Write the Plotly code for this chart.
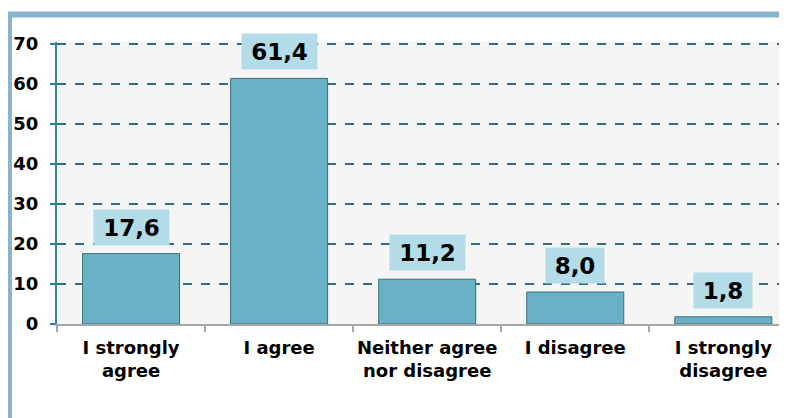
import plotly.graph_objects as go

categories = ["I strongly<br>agree", "I agree", "Neither agree<br>nor disagree", "I disagree", "I strongly<br>disagree"]
values = [17.6, 61.4, 11.2, 8.0, 1.8]
y_ticks = [0, 10, 20, 30, 40, 50, 60, 70]

labels = [f"{v:.1f}".replace(".", ",") for v in values]

fig = go.Figure()
fig.add_trace(go.Bar(
    x=categories, y=values,
    marker=dict(color="#69B2C6", line=dict(color="#3B6E7C", width=1)),
    hoverinfo="skip",
))

for c, v, t in zip(categories, values, labels):
    fig.add_annotation(
        x=c, y=v, text=f"<b>{t}</b>", showarrow=False,
        yanchor="bottom", yshift=8,
        font=dict(family="DejaVu Sans", size=23, color="black"),
        bgcolor="#B3DCE8", borderpad=6, width=17 * len(t) - 5, height=23,
    )

# outer light-blue frame (partially visible at left and top)
fig.add_shape(type="rect", xref="paper", yref="paper",
              x0=-0.0658, x1=1.2, y0=-0.5, y1=1.0975,
              line=dict(color="#8AB4CE", width=6), fillcolor="rgba(0,0,0,0)", layer="below")

fig.update_layout(
    width=779, height=410,
    margin=dict(l=49, r=0, t=34, b=94),
    paper_bgcolor="white", plot_bgcolor="#F5F5F5",
    bargap=0.345, showlegend=False,
    font=dict(family="DejaVu Sans", color="black"),
)
fig.update_xaxes(
    range=[-0.5, 4.43], automargin=False, tickangle=0,
    showline=True, linecolor="#A6A6A6", linewidth=2,
    ticks="outside", tickson="boundaries", ticklen=6, tickcolor="#A6A6A6", tickwidth=2,
    ticklabelstandoff=6,
    tickfont=dict(family="DejaVu Sans", size=18, color="black"),
    tickvals=categories, ticktext=[f"<b>{c}</b>" for c in categories],
    showgrid=False,
)
fig.update_yaxes(
    range=[0, 70.5], automargin=False,
    tickvals=y_ticks, ticktext=[f"<b>{v}</b>" for v in y_ticks],
    showline=True, linecolor="#31849B", linewidth=2,
    ticks="outside", ticklen=5, tickcolor="#31849B", tickwidth=2,
    ticklabelstandoff=8,
    showgrid=True, gridcolor="#2F6F80", griddash="dash", gridwidth=1.5,
    zeroline=False,
    tickfont=dict(family="DejaVu Sans", size=18, color="black"),
)

fig.write_html("out.html")
